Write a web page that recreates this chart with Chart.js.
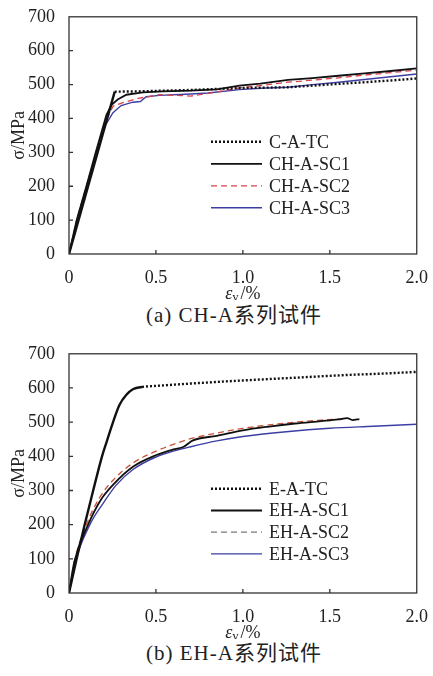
<!DOCTYPE html>
<html>
<head>
<meta charset="utf-8">
<script src="https://cdn.jsdelivr.net/npm/chart.js@4.4.1/dist/chart.umd.min.js"></script>
<style>
  body { margin: 0; background: #fff; width: 433px; height: 676px; position: relative; overflow: hidden; }
  .box { position: absolute; left: 0; width: 433px; }
  .cap { position: absolute; left: 0; width: 468px; text-align: center; color: #222;
         font: 21px "Liberation Serif", "Noto Sans CJK SC", serif; line-height: 24px; letter-spacing: 1px; }
</style>
</head>
<body>
<div class="box" style="top:0;height:300px"><canvas id="chartA"></canvas></div>
<div class="cap" style="top:303px">(a) CH-A系列试件</div>
<div class="box" style="top:337px;height:302px"><canvas id="chartB"></canvas></div>
<div class="cap" style="top:641px">(b) EH-A系列试件</div>
<script>
// axis ticks
const xTicks = [0, 0.5, 1, 1.5, 2];
const xTickLabels = ['0', '0.5', '1.0', '1.5', '2.0'];
const yTicks = [0, 100, 200, 300, 400, 500, 600, 700];
const yTickLabels = ['0', '100', '200', '300', '400', '500', '600', '700'];

// (a) CH-A series, strain εv (%) vs stress σ (MPa)
const aTC_x = [0, 0.263, 0.40, 0.55, 0.70, 0.80, 0.90, 1.00, 1.15, 1.26, 1.40, 1.55, 1.70, 1.85, 2.00];
const aTC_y = [0, 479, 480, 482, 484, 486, 488, 490, 491, 492, 497, 502, 507, 512, 518];
const aSC1_x = [0, 0.044, 0.10, 0.154, 0.215, 0.245, 0.28, 0.33, 0.425, 0.54, 0.70, 0.85, 0.98, 1.10, 1.26, 1.40, 1.55, 1.70, 1.85, 2.00];
const aSC1_y = [0, 100, 200, 300, 410, 440, 456, 470, 477, 480, 482, 486, 497, 503, 514, 519, 526, 533, 540, 548];
const aSC2_x = [0, 0.044, 0.10, 0.154, 0.21, 0.253, 0.31, 0.406, 0.52, 0.62, 0.70, 0.80, 0.98, 1.10, 1.26, 1.40, 1.55, 1.70, 1.85, 2.00];
const aSC2_y = [0, 100, 200, 295, 390, 436, 447, 460, 470, 468, 466, 474, 490, 497, 507, 513, 520, 528, 535, 543];
const aSC3_x = [0, 0.044, 0.10, 0.154, 0.21, 0.253, 0.30, 0.367, 0.41, 0.444, 0.52, 0.70, 0.80, 0.98, 1.10, 1.26, 1.40, 1.55, 1.70, 1.85, 2.00];
const aSC3_y = [0, 95, 195, 290, 380, 417, 438, 448, 450, 464, 468, 472, 475, 485, 489, 492, 500, 507, 515, 523, 531];

// (b) EH-A series
const bTC_x = [0, 0.044, 0.09, 0.139, 0.19, 0.215, 0.25, 0.29, 0.33, 0.37, 0.42, 0.50, 0.70, 1.00, 1.30, 1.60, 1.80, 2.00];
const bTC_y = [0, 100, 200, 300, 400, 440, 495, 550, 580, 597, 603, 606, 613, 622, 630, 638, 642, 647];
const bSC1_x = [0, 0.03, 0.11, 0.18, 0.26, 0.37, 0.50, 0.60, 0.66, 0.71, 0.85, 1.00, 1.15, 1.30, 1.45, 1.55, 1.60, 1.63, 1.67];
const bSC1_y = [0, 90, 200, 270, 320, 370, 403, 420, 428, 446, 460, 476, 487, 496, 503, 508, 512, 506, 509];
const bSC2_x = [0, 0.03, 0.10, 0.177, 0.253, 0.367, 0.50, 0.60, 0.71, 0.85, 1.00, 1.15, 1.30, 1.45, 1.58];
const bSC2_y = [0, 90, 200, 280, 330, 380, 415, 435, 453, 468, 482, 492, 500, 506, 510];
const bSC3_x = [0, 0.035, 0.12, 0.20, 0.27, 0.37, 0.50, 0.60, 0.70, 0.85, 1.00, 1.25, 1.50, 1.75, 2.00];
const bSC3_y = [0, 90, 200, 265, 315, 362, 398, 415, 428, 445, 458, 472, 482, 488, 494];

const serif = '"Liberation Serif", "Times New Roman", serif';

function pts(xs, ys) {
  return xs.map((x, i) => ({ x: x, y: ys[i] }));
}

// test curves look solid on the steep elastic part, dotted after yield
function tcSegment(solidUntil) {
  return { borderDash: c => (c.p0.parsed.x < solidUntil ? [] : [2, 2]) };
}

// frame, inward ticks and the εv/% axis title
const framePlugin = {
  id: 'frame',
  afterDatasetsDraw(chart) {
    const { ctx, chartArea: a, scales: { x, y } } = chart;
    ctx.save();
    ctx.strokeStyle = '#333';
    ctx.lineWidth = 1.3;
    ctx.strokeRect(a.left, a.top, a.right - a.left, a.bottom - a.top);
    ctx.beginPath();
    xTicks.slice(1, -1).forEach(v => {
      const px = x.getPixelForValue(v);
      ctx.moveTo(px, a.bottom);
      ctx.lineTo(px, a.bottom - 4);
    });
    yTicks.slice(1, -1).forEach(v => {
      const py = y.getPixelForValue(v);
      ctx.moveTo(a.left, py);
      ctx.lineTo(a.left + 4, py);
    });
    ctx.stroke();

    // x title with subscript
    const cy = a.bottom + 40;
    const big = 'italic 18px ' + serif;
    const small = '12px ' + serif;
    const rest = '18px ' + serif;
    ctx.fillStyle = '#222';
    ctx.textBaseline = 'middle';
    ctx.font = big; const w1 = ctx.measureText('ε').width;
    ctx.font = small; const w2 = ctx.measureText('v').width;
    ctx.font = rest; const w3 = ctx.measureText('/%').width;
    let cx = (a.left + a.right) / 2 - (w1 + w2 + w3 + 2) / 2;
    ctx.font = big; ctx.fillText('ε', cx, cy); cx += w1;
    ctx.font = small; ctx.fillText('v', cx, cy + 4); cx += w2 + 2;
    ctx.font = rest; ctx.fillText('/%', cx, cy);
    ctx.restore();
  }
};

// legend drawn inside the plot area
const boxLegendPlugin = {
  id: 'boxLegend',
  afterDraw(chart, args, opts) {
    const { ctx, chartArea: a } = chart;
    ctx.save();
    ctx.font = '18px ' + serif;
    ctx.textBaseline = 'middle';
    chart.data.datasets.forEach((ds, i) => {
      const y = a.top + opts.top + i * opts.gap;
      const x = a.left + opts.left;
      ctx.strokeStyle = (opts.colors && opts.colors[i]) || ds.borderColor;
      ctx.lineWidth = ds.borderWidth;
      ctx.setLineDash(ds.borderDash || []);
      ctx.beginPath();
      ctx.moveTo(x, y);
      ctx.lineTo(x + opts.len, y);
      ctx.stroke();
      ctx.setLineDash([]);
      ctx.fillStyle = '#222';
      ctx.fillText(ds.label, x + opts.len + 7, y + 1);
    });
    ctx.restore();
  }
};

function makeChart(id, datasets, legendOpts, lineOpts) {
  return new Chart(document.getElementById(id), {
    type: 'line',
    data: { datasets: datasets },
    options: {
      responsive: true,
      maintainAspectRatio: false,
      animation: false,
      layout: { padding: { top: 12, right: 14, left: 0, bottom: 0 } },
      elements: {
        point: { radius: 0 },
        line: lineOpts
      },
      plugins: {
        legend: { display: false },
        tooltip: { enabled: false },
        boxLegend: legendOpts
      },
      scales: {
        x: {
          type: 'linear',
          min: 0,
          max: 2,
          afterBuildTicks: s => { s.ticks = xTicks.map(v => ({ value: v })); },
          afterFit: s => { s.height = 46; },
          ticks: {
            callback: v => xTickLabels[xTicks.indexOf(v)],
            color: '#222',
            font: { family: serif, size: 18 },
            padding: 5,
            maxRotation: 0,
            autoSkip: false
          },
          grid: { display: false },
          border: { display: false }
        },
        y: {
          min: 0,
          max: 700,
          afterBuildTicks: s => { s.ticks = yTicks.map(v => ({ value: v })); },
          afterFit: s => { s.width = 69; },
          ticks: {
            callback: v => yTickLabels[yTicks.indexOf(v)],
            color: '#222',
            font: { family: serif, size: 18 },
            padding: 6
          },
          grid: { display: false },
          border: { display: false },
          title: {
            display: true,
            text: 'σ/MPa',
            color: '#222',
            font: { family: serif, size: 18 },
            padding: { top: 8, bottom: 0 }
          }
        }
      }
    },
    plugins: [framePlugin, boxLegendPlugin]
  });
}

makeChart('chartA', [
  { label: 'C-A-TC', data: pts(aTC_x, aTC_y), borderColor: '#111', borderWidth: 2.4, borderDash: [2, 2], segment: tcSegment(0.25) },
  { label: 'CH-A-SC1', data: pts(aSC1_x, aSC1_y), borderColor: '#111', borderWidth: 1.8 },
  { label: 'CH-A-SC2', data: pts(aSC2_x, aSC2_y), borderColor: '#d8404a', borderWidth: 1.3, borderDash: [6, 4] },
  { label: 'CH-A-SC3', data: pts(aSC3_x, aSC3_y), borderColor: '#3c3ea3', borderWidth: 1.4 }
], { left: 142, top: 125, gap: 22, len: 51 }, { tension: 0 });

makeChart('chartB', [
  { label: 'E-A-TC', data: pts(bTC_x, bTC_y), borderColor: '#111', borderWidth: 2.4, borderDash: [2, 2], segment: tcSegment(0.4) },
  { label: 'EH-A-SC1', data: pts(bSC1_x, bSC1_y), borderColor: '#111', borderWidth: 1.8 },
  { label: 'EH-A-SC2', data: pts(bSC2_x, bSC2_y), borderColor: '#c9543a', borderWidth: 1.3, borderDash: [6, 4] },
  { label: 'EH-A-SC3', data: pts(bSC3_x, bSC3_y), borderColor: '#3c3ea3', borderWidth: 1.4 }
], { left: 142, top: 135, gap: 21.7, len: 51, colors: [null, null, '#777', null] }, { cubicInterpolationMode: 'monotone' });
</script>
</body>
</html>
